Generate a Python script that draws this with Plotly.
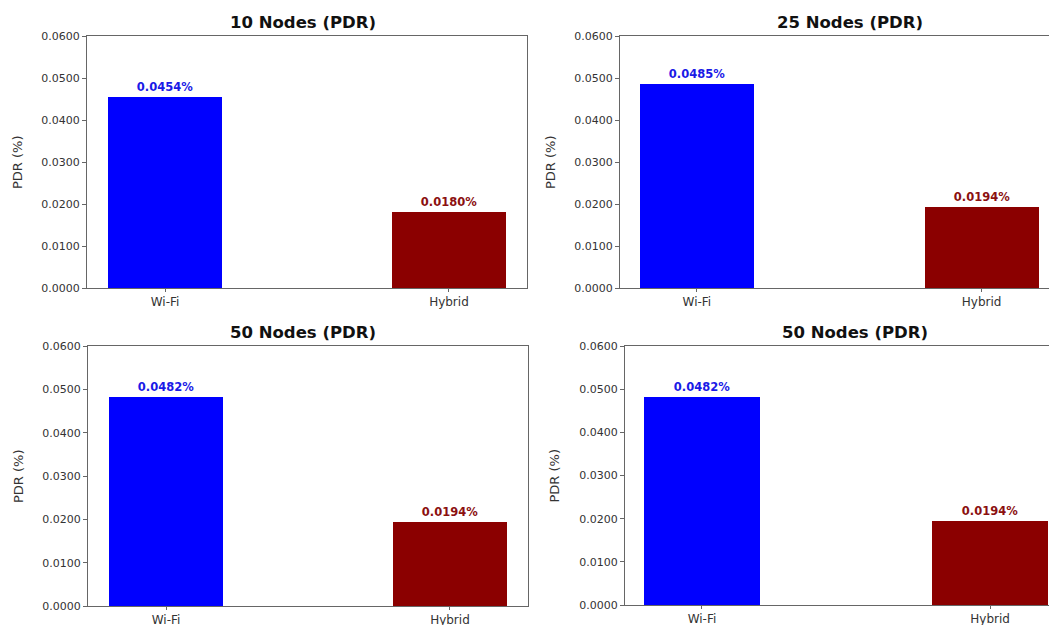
import plotly.graph_objects as go

# ---- data ----
categories = ["Wi-Fi", "Hybrid"]
panel_titles = ["10 Nodes (PDR)", "25 Nodes (PDR)", "50 Nodes (PDR)", "50 Nodes (PDR)"]
pdr_10 = [0.0454, 0.0180]
pdr_25 = [0.0485, 0.0194]
pdr_50a = [0.0482, 0.0194]
pdr_50b = [0.0482, 0.0194]
ytick_vals = [0.0, 0.01, 0.02, 0.03, 0.04, 0.05, 0.06]
ytick_text = ["0.0000", "0.0100", "0.0200", "0.0300", "0.0400", "0.0500", "0.0600"]
y_label = "PDR (%)"

series = [pdr_10, pdr_25, pdr_50a, pdr_50b]
bar_colors = ["#0000ff", "#8b0000"]
text_colors = ["#1a1ae6", "#8b1010"]

W, H = 1057, 625
OFF = 8  # page body margin of the html page
# page-pixel boxes of each plot area: (left, right, top, bottom)
boxes = [(87, 527, 36, 288), (620, 1065, 36, 288), (88, 528, 346, 606), (625, 1065, 346, 605)]
xranges = [[-0.275, 1.275], [-0.27, 1.293], [-0.275, 1.275], [-0.267, 1.26]]
ytitle_x = [18, 551, 18, 554]
title_cx = [303, 850, 303, 855]

def px(p):
    return (p - OFF) / W

def py(p):
    return (H - (p - OFF)) / H

FONT = "DejaVu Sans"
fig = go.Figure()
annotations = []
for i, (vals, box) in enumerate(zip(series, boxes)):
    n = "" if i == 0 else str(i + 1)
    xa, ya = "x" + n, "y" + n
    fig.add_trace(go.Bar(
        x=[0, 1], y=vals, width=0.4,
        marker=dict(color=bar_colors, line=dict(width=0)),
        text=[f"{v:.4f}%" for v in vals],
        textposition="outside",
        textfont=dict(family=FONT, size=11.5, color=text_colors, weight="bold"),
        cliponaxis=False,
        xaxis=xa, yaxis=ya, showlegend=False,
    ))
    l, r, t, b = box
    dom_x = [px(l), min(px(r), 1.0)]
    dom_y = [py(b), py(t)]
    axkw = dict(showline=True, linecolor="#666666", linewidth=1, mirror=True,
                showgrid=False, zeroline=False, ticks="outside",
                tickcolor="#666666", automargin=False)
    fig.layout["xaxis" + n] = dict(domain=dom_x, range=xranges[i], tickvals=[0, 1],
                                   ticktext=categories, anchor=ya, ticklen=3,
                                   tickfont=dict(family=FONT, size=12, color="#333333"),
                                   **axkw)
    fig.layout["yaxis" + n] = dict(domain=dom_y, range=[0, 0.06], tickvals=ytick_vals,
                                   ticktext=ytick_text, anchor=xa, ticklen=4,
                                   tickfont=dict(family=FONT, size=11, color="#333333"),
                                   **axkw)
    annotations.append(dict(text="<b>" + panel_titles[i] + "</b>", x=px(title_cx[i]),
                            y=py(t), xref="paper", yref="paper", xanchor="center",
                            yanchor="bottom", yshift=2, showarrow=False,
                            font=dict(family=FONT, size=16.5, color="#111111")))
    annotations.append(dict(text=y_label, x=px(ytitle_x[i]), y=py((t + b) / 2),
                            xref="paper", yref="paper", xanchor="center", yanchor="middle",
                            textangle=-90, showarrow=False,
                            font=dict(family=FONT, size=13, color="#333333")))

fig.update_layout(width=W, height=H, margin=dict(l=0, r=0, t=0, b=0, autoexpand=False),
                  paper_bgcolor="white", plot_bgcolor="white",
                  annotations=annotations, bargap=0)
fig.write_html("out.html")
